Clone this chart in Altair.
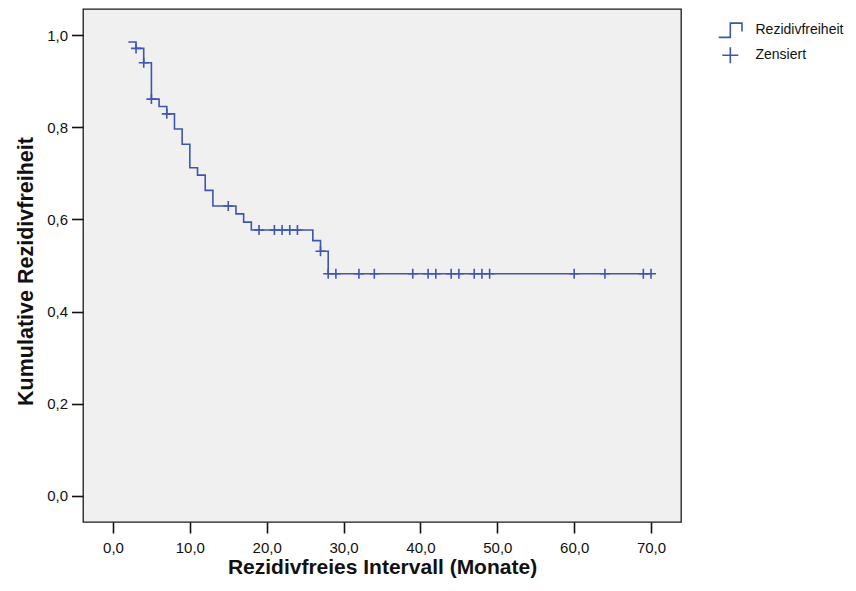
import altair as alt
import pandas as pd

# Kaplan-Meier step curve (time in months, cumulative relapse-free proportion)
step_times = [2, 3, 4, 5, 6, 7, 8, 9, 10, 11, 12, 13, 16, 17, 18, 26, 27, 28, 70]
step_surv = [0.985, 0.971, 0.940, 0.861, 0.845, 0.829, 0.796, 0.763, 0.712, 0.696,
             0.663, 0.629, 0.612, 0.594, 0.577, 0.554, 0.531, 0.482, 0.482]

# censored observations
censor_times = [3, 4, 5, 7, 15, 19, 21, 22, 23, 24, 27, 28, 29, 32, 34, 39, 41, 42,
                44, 45, 47, 48, 49, 60, 64, 69, 70]
censor_surv = [0.971, 0.940, 0.861, 0.829, 0.629, 0.577, 0.577, 0.577, 0.577, 0.577,
               0.531, 0.482, 0.482, 0.482, 0.482, 0.482, 0.482, 0.482, 0.482, 0.482,
               0.482, 0.482, 0.482, 0.482, 0.482, 0.482, 0.482]

legend_labels = ["Rezidivfreiheit", "Zensiert"]
x_ticks = [0, 10, 20, 30, 40, 50, 60, 70]
y_ticks = [0.0, 0.2, 0.4, 0.6, 0.8, 1.0]

BLUE = "#3e56b0"
FONT = "Liberation Sans"

line_df = pd.DataFrame({"t": step_times, "s": step_surv})
cens_df = pd.DataFrame({"t": censor_times, "s": censor_surv,
                        "label": ["Zensiert"] * len(censor_times)})

xscale = alt.Scale(domain=[-3.9, 73.9], nice=False, zero=False)
yscale = alt.Scale(domain=[-0.0565, 1.0565], nice=False, zero=False)

xaxis = alt.Axis(values=x_ticks, title="Rezidivfreies Intervall (Monate)",
                 labelExpr="replace(format(datum.value, '.1f'), '.', ',')",
                 tickSize=11, labelPadding=7, titleY=51, titleFontSize=21,
                 titleBaseline="alphabetic")
yaxis = alt.Axis(values=y_ticks, title="Kumulative Rezidivfreiheit",
                 labelExpr="replace(format(datum.value, '.1f'), '.', ',')",
                 tickSize=11.5, labelPadding=4, titleX=-51, titleY=262,
                 titleAngle=270, titleBaseline="alphabetic", titleAlign="center")

step_path = "M-1.45,0.9H0V-0.89H1.46V0.15"
plus_path = "M-1,0H1M0,-1V1"

line = alt.Chart(line_df).mark_line(
    interpolate="step-after", color=BLUE, strokeWidth=1.6
).encode(
    x=alt.X("t:Q", scale=xscale, axis=xaxis),
    y=alt.Y("s:Q", scale=yscale, axis=yaxis),
)

cens = alt.Chart(cens_df).mark_point(
    filled=False, size=100, strokeWidth=1.6, color=BLUE, opacity=1
).encode(
    x=alt.X("t:Q", scale=xscale),
    y=alt.Y("s:Q", scale=yscale),
    shape=alt.Shape("label:N",
                    scale=alt.Scale(domain=legend_labels, range=[step_path, plus_path]),
                    legend=alt.Legend(title=None, orient="none", legendX=638.3, legendY=12.2,
                                      symbolSize=256, symbolStrokeWidth=1.6,
                                      symbolStrokeColor=BLUE, symbolFillColor="transparent",
                                      symbolOffset=0, padding=0, labelOffset=16.2,
                                      rowPadding=2.1, labelFont=FONT, labelFontSize=14,
                                      labelColor="#111", labelLimit=300)),
)

chart = alt.layer(line, cens).properties(
    width=598, height=513,
    autosize=alt.AutoSizeParams(type="none"),
    padding={"left": 75, "top": 1, "right": 167, "bottom": 56},
).configure_view(
    stroke="#1a1a1a", strokeWidth=1.3, fill="#f0f0f0"
).configure_axis(
    grid=False, domain=False, tickColor="#111", tickWidth=1.6,
    labelFont=FONT, labelFontSize=15, labelColor="#111",
    titleFont=FONT, titleFontSize=21.5, titleFontWeight="bold", titleColor="#111",
)

chart.save("out.html", embed_options={"renderer": "svg", "actions": False})
